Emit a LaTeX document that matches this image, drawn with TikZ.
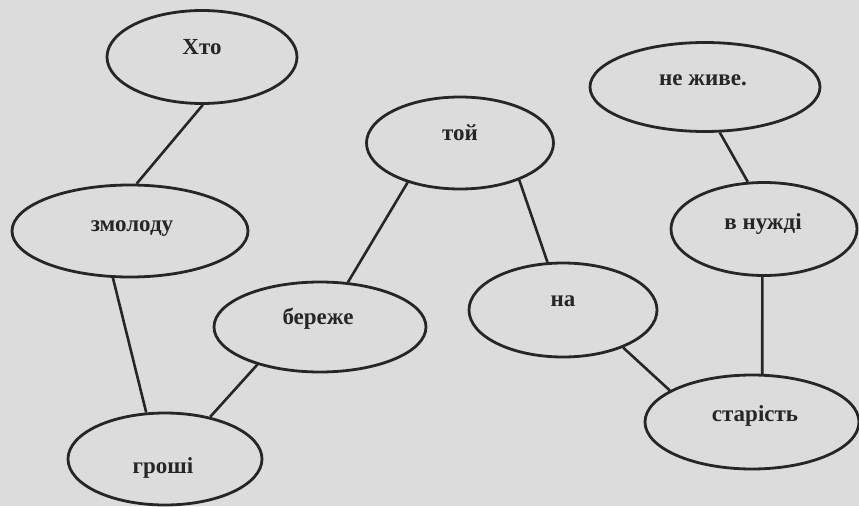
\documentclass[tikz,border=0pt]{standalone}
\usepackage{fontspec}
\setmainfont{Liberation Serif}
\usetikzlibrary{shapes.geometric}
\definecolor{paper}{RGB}{220,220,220}
\definecolor{ink}{RGB}{38,38,38}
\tikzset{
  oval/.style={ellipse, draw=ink, line width=2.8pt, inner sep=0pt},
  word/.style={anchor=base, text=ink, font=\fontsize{23}{26}\selectfont\bfseries},
  link/.style={draw=ink, line width=2.6pt}
}
\begin{document}
\begin{tikzpicture}[x=1pt,y=-1pt]
\useasboundingbox (0,0) rectangle (859,506);
\fill[paper] (0,0) rectangle (859,506);
% ellipses
\node[oval, minimum width=190pt, minimum height=93pt] (hto) at (202,57) {};
\node[oval, minimum width=236pt, minimum height=92pt] (zm) at (130,231) {};
\node[oval, minimum width=194pt, minimum height=92pt] (gr) at (165,459) {};
\node[oval, minimum width=212pt, minimum height=90pt] (br) at (320,327) {};
\node[oval, minimum width=187pt, minimum height=92pt] (toj) at (460,143) {};
\node[oval, minimum width=188pt, minimum height=94pt] (na) at (563,310) {};
\node[oval, minimum width=230pt, minimum height=89pt] (nz) at (705,87) {};
\node[oval, minimum width=186pt, minimum height=93pt] (vn) at (764,229) {};
\node[oval, minimum width=214pt, minimum height=94pt] (st) at (752,422) {};
% words
\node[word] (thto) at (202,54) {Хто};
\node[word] (tzm) at (132,231) {змолоду};
\node[word] (tgr) at (163,473) {гроші};
\node[word] (tbr) at (318,324) {береже};
\node[word] (ttoj) at (460,140) {той};
\node[word] (tna) at (563,306) {на};
\node[word] (tnz) at (703,85) {не живе.};
\node[word] (tvn) at (763,229) {в нужді};
\node[word] (tst) at (755,421) {старість};
% connectors
\draw[link] (hto.-89) -- (zm.82);
\draw[link] (zm.-110) -- (gr.112);
\draw[link] (br.-149) -- (gr.43);
\draw[link] (toj.-143) -- (br.58);
\draw[link] (toj.-32) -- (na.108);
\draw[link] (na.-32) -- (st.159);
\draw[link] (nz.-72) -- (vn.109);
\draw[link] (vn.-92) -- (st.78);
\end{tikzpicture}
\end{document}
